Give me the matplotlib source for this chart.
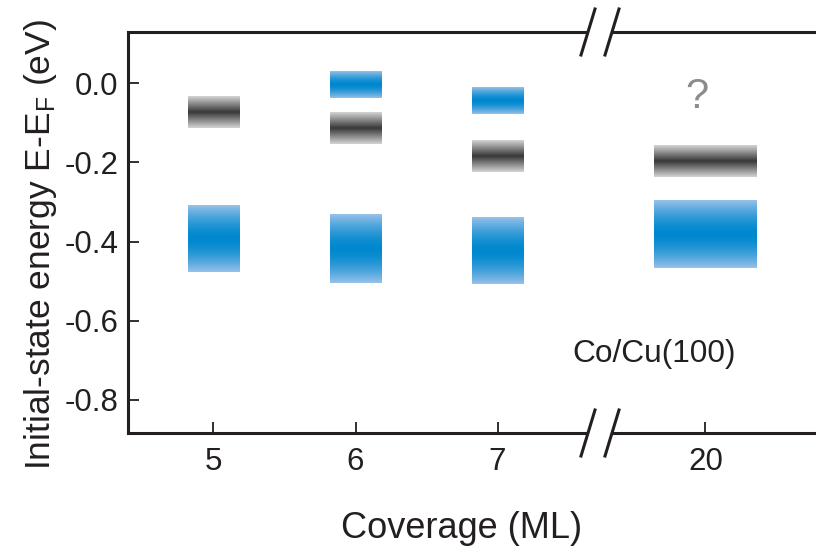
import numpy as np
import matplotlib.pyplot as plt
from matplotlib.colors import LinearSegmentedColormap
from matplotlib.lines import Line2D

plt.rcParams['font.family'] = ['Liberation Sans', 'DejaVu Sans']
plt.rcParams['mathtext.fontset'] = 'custom'
plt.rcParams['mathtext.rm'] = 'Liberation Sans'
plt.rcParams['mathtext.it'] = 'Liberation Sans:italic'

# band positions (eV)
gray_cov = [5, 6, 7, 20]
gray_top = [-0.032, -0.073, -0.143, -0.158]
gray_bot = [-0.112, -0.153, -0.223, -0.237]

blue_cov = [6, 7, 5, 6, 7, 20]
blue_top = [0.031, -0.009, -0.307, -0.333, -0.338, -0.297]
blue_bot = [-0.036, -0.077, -0.476, -0.505, -0.507, -0.467]

left_ticks = [5, 6, 7]
right_ticks = [20]
yticks = [0.0, -0.2, -0.4, -0.6, -0.8]
ytick_labels = ['0.0', '-0.2', '-0.4', '-0.6', '-0.8']

NARROW = 0.366
WIDE = 0.725
INK = '#231f20'

blue_cmap = LinearSegmentedColormap.from_list('b', ['#98c1e9', '#0088cf'])
gray_cmap = LinearSegmentedColormap.from_list('g', ['#d4d4d4', '#383838'])

W, H = 816, 549
fig = plt.figure(figsize=(W / 100, H / 100), dpi=100)

y_lo, y_hi = -0.8835, 0.1296
ax1 = fig.add_axes([128 / W, 1 - 433 / H, (587 - 128) / W, (433 - 32) / H])
ax2 = fig.add_axes([613 / W, 1 - 433 / H, (816 - 613) / W, (433 - 32) / H])


def band(ax, x, top, bot, w, cmap, p):
    t = np.linspace(-1, 1, 200)
    prof = (1 - np.abs(t) ** p)[:, None]
    ax.imshow(prof, cmap=cmap, vmin=0, vmax=1, aspect='auto',
              interpolation='bilinear', origin='lower',
              extent=(x - w / 2, x + w / 2, bot, top), zorder=2)


for x, tp, bt in zip(gray_cov, gray_top, gray_bot):
    ax = ax2 if x >= 20 else ax1
    band(ax, x, tp, bt, WIDE if x >= 20 else NARROW, gray_cmap, 1.0)
for x, tp, bt in zip(blue_cov, blue_top, blue_bot):
    ax = ax2 if x >= 20 else ax1
    band(ax, x, tp, bt, WIDE if x >= 20 else NARROW, blue_cmap, 1.6)

ax1.set_xlim(4.398, 7.630)
ax2.set_xlim(19.349, 20.778)
for ax in (ax1, ax2):
    ax.set_ylim(y_lo, y_hi)
    ax.spines['right'].set_visible(False)
    for s in ('top', 'bottom', 'left'):
        ax.spines[s].set_linewidth(2.2)
        ax.spines[s].set_color(INK)
    ax.tick_params(direction='in', length=8, width=1.3, color=INK,
                   labelsize=22.5, labelcolor=INK)
    ax.tick_params(axis='x', pad=10)
    ax.tick_params(axis='y', pad=7)

ax1.set_xticks(left_ticks)
ax1.set_yticks(yticks)
ax1.set_yticklabels(ytick_labels)
ax2.set_xticks(right_ticks)
ax2.set_yticks([])
ax2.spines['left'].set_visible(False)

# axis break marks
for cx in (588, 612):
    for cy in (32, 433):
        fig.add_artist(Line2D([(cx - 7) / W, (cx + 7) / W],
                              [1 - (cy + 23) / H, 1 - (cy - 23) / H],
                              transform=fig.transFigure, color=INK, lw=2.2))

ax2.text(19.94, -0.035, '?', ha='center', va='center', fontsize=30,
         color='#8c8c8c')
fig.text(572 / W, 1 - 362 / H, 'Co/Cu(100)', ha='left', va='baseline',
         fontsize=22.8, color=INK)

fig.text(462 / W, 1 - 538 / H, 'Coverage (ML)', ha='center', va='baseline',
         fontsize=26, color=INK)
fig.text(50 / W, 1 - 245 / H, r'Initial-state energy E-E$_\mathrm{F}$ (eV)',
         rotation=90, rotation_mode='anchor', ha='center', va='baseline',
         fontsize=25.5, color=INK)

fig.savefig('out.png', dpi=100)
